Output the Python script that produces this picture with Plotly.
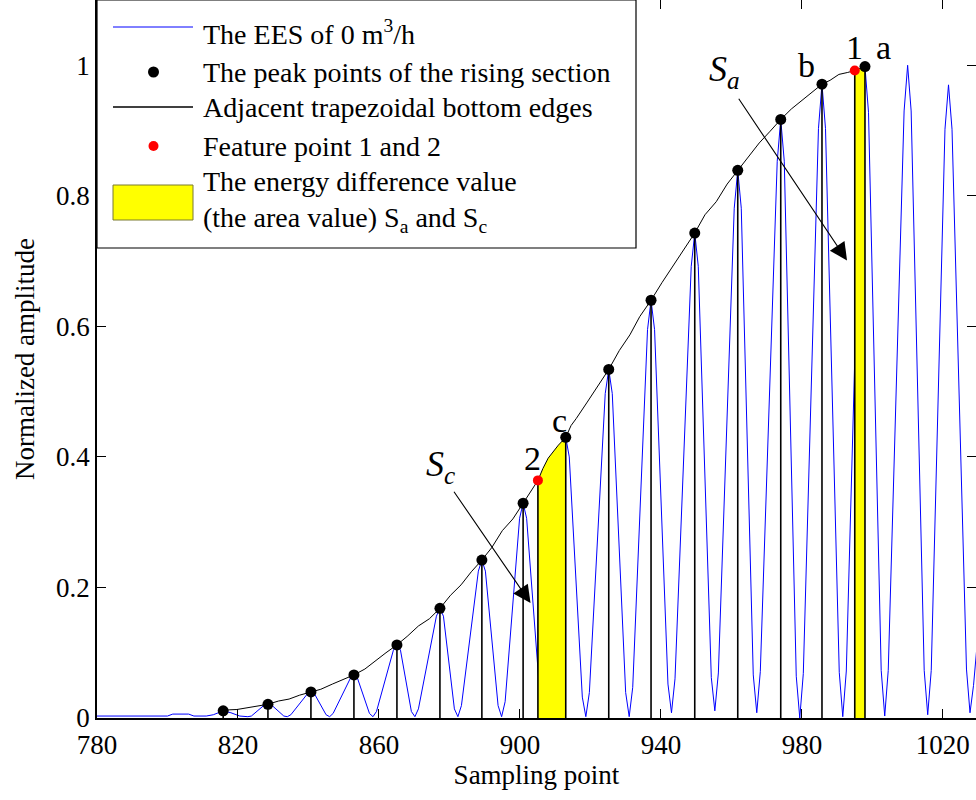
import plotly.graph_objects as go

# ---------------- data ----------------
# blue EES signal (vertices of the sampled waveform)
blue_x = [780, 800, 801.5, 806, 807.5, 811, 813, 815.8, 818, 820.5, 822.8,
          823.8, 827.5, 828.5, 829.5, 833.0, 834.0,
          835.0, 839.7, 840.7, 841.7, 845.0, 846.0,
          847.0, 851.9, 852.9, 853.9, 857.3, 858.3,
          859.3, 864.1, 865.1, 866.1, 869.2, 870.2,
          871.2, 876.3, 877.3, 878.3, 881.4, 882.4,
          883.4, 888.2, 889.2, 890.2, 893.8, 894.8,
          895.8, 899.9, 900.9, 901.9, 905.8, 906.8,
          907.8, 912.0, 913.0, 914.0, 917.7, 918.7,
          919.7, 924.2, 925.2, 926.2, 930.0, 931.0,
          932.0, 936.2, 937.2, 938.2, 942.0, 943.0,
          944.0, 948.6, 949.6, 950.6, 954.3, 955.3,
          956.3, 960.8, 961.8, 962.8, 966.2, 967.2,
          968.2, 973.0, 974.0, 975.0, 978.4, 979.4,
          980.4, 984.7, 985.7, 986.7, 990.6, 991.6,
          992.6, 996.9, 997.9, 998.9, 1002.5, 1003.5,
          1004.5, 1009.0, 1010.0, 1011.0, 1014.7, 1015.7,
          1016.7, 1020.6, 1021.6, 1022.6, 1026.7, 1027.7,
          1028.7, 1030.0]
blue_y = [0.003, 0.003, 0.006, 0.006, 0.003, 0.003, 0.005, 0.011, 0.008, 0.003, 0.002,
          0.003, 0.020, 0.021, 0.020, 0.003, 0.002,
          0.005, 0.037, 0.040, 0.037, 0.005, 0.002,
          0.007, 0.061, 0.066, 0.061, 0.007, 0.002,
          0.010, 0.104, 0.112, 0.104, 0.010, 0.002,
          0.014, 0.156, 0.168, 0.156, 0.014, 0.002,
          0.019, 0.225, 0.242, 0.225, 0.019, 0.002,
          0.025, 0.306, 0.329, 0.306, 0.025, 0.002,
          0.032, 0.400, 0.430, 0.400, 0.032, 0.002,
          0.039, 0.497, 0.534, 0.497, 0.039, 0.002,
          0.047, 0.595, 0.640, 0.595, 0.052, 0.008,
          0.060, 0.692, 0.743, 0.692, 0.062, 0.011,
          0.069, 0.781, 0.839, 0.781, 0.066, 0.008,
          0.071, 0.853, 0.917, 0.853, 0.064, 0.000,
          0.068, 0.903, 0.971, 0.903, 0.070, 0.002,
          0.072, 0.928, 0.998, 0.928, 0.073, 0.003,
          0.073, 0.930, 1.000, 0.930, 0.073, 0.005,
          0.073, 0.902, 0.970, 0.902, 0.075, 0.008,
          0.050, 0.130]

# peak points of the rising section
peak_x = [815.8, 828.5, 840.7, 852.9, 865.1, 877.3, 889.2, 900.9,
          913.0, 925.2, 937.2, 949.6, 961.8, 974.0, 985.7, 997.9]
peak_y = [0.011, 0.021, 0.040, 0.066, 0.112, 0.168, 0.242, 0.329,
          0.430, 0.534, 0.640, 0.743, 0.839, 0.917, 0.971, 0.998]

# adjacent trapezoidal bottom edges (envelope through the peaks)
env_x = [815.8, 817.5, 819.7, 822.0, 825.0, 828.5, 831.5, 834.5, 837.5, 840.7,
         843.5, 846.8, 850.0, 852.9, 856.0, 859.0, 862.0, 865.1, 868.0, 871.2,
         874.3, 877.3, 880.3, 883.3, 886.2, 889.2, 892.0, 895.0, 898.0, 900.9,
         903.0, 905.1, 906.5, 908.0, 910.9, 913.0, 914.5, 916.0, 919.1, 922.0,
         925.2, 928.2, 931.2, 934.0, 937.2, 940.3, 943.4, 946.5, 949.6, 952.5,
         955.7, 958.8, 961.8, 964.8, 967.9, 971.0, 974.0, 977.0, 979.8, 982.8,
         985.7, 988.0, 990.5, 993.0, 995.0, 997.9]
env_y = [0.011, 0.0125, 0.013, 0.015, 0.017, 0.021, 0.026, 0.029, 0.035, 0.040,
         0.044, 0.052, 0.059, 0.066, 0.075, 0.088, 0.100, 0.112, 0.125, 0.141,
         0.152, 0.168, 0.188, 0.204, 0.224, 0.242, 0.261, 0.287, 0.305, 0.329,
         0.347, 0.364, 0.382, 0.398, 0.418, 0.430, 0.448, 0.459, 0.484, 0.507,
         0.534, 0.563, 0.587, 0.615, 0.640, 0.667, 0.693, 0.717, 0.743, 0.771,
         0.791, 0.818, 0.839, 0.860, 0.881, 0.899, 0.917, 0.933, 0.945, 0.959,
         0.971, 0.977, 0.986, 0.989, 0.992, 0.998]

# feature points 1 and 2
feat_x = [995.0, 905.1]
feat_y = [0.992, 0.364]
feat_labels = ["1", "2"]

# yellow areas: from feature point to the next peak (a and c)
area_ranges = [(905.1, 913.0), (995.0, 997.9)]

# point labels
lab_text = ["a", "b", "c"]
lab_x = [1003.2, 981.4, 911.3]
lab_y = [1.028, 1.000, 0.456]

x_ticks = [780, 820, 860, 900, 940, 980, 1020]
y_ticks = [0, 0.2, 0.4, 0.6, 0.8, 1]

FONT = "Liberation Serif, Times New Roman, serif"

fig = go.Figure()

# blue signal
fig.add_trace(go.Scatter(x=blue_x, y=blue_y, mode="lines",
                         line=dict(color="#0000ff", width=1), showlegend=False,
                         name="The EES of 0 m<sup>3</sup>/h"))

# yellow areas
for (xa, xb) in area_ranges:
    sx = [x for x in env_x if xa <= x <= xb]
    sy = [y for x, y in zip(env_x, env_y) if xa <= x <= xb]
    fig.add_trace(go.Scatter(x=sx + [xb, xa, xa], y=sy + [0, 0, sy[0]],
                             fill="toself", fillcolor="#ffff00",
                             line=dict(color="rgba(0,0,0,0)", width=0),
                             mode="lines", showlegend=False, hoverinfo="skip"))

# stems from peaks and feature points down to zero
stem_x, stem_y = [], []
for x, y in list(zip(peak_x, peak_y)) + list(zip(feat_x, feat_y)):
    stem_x += [x, x, None]
    stem_y += [0, y, None]
fig.add_trace(go.Scatter(x=stem_x, y=stem_y, mode="lines",
                         line=dict(color="black", width=1.6), showlegend=False))

# envelope
fig.add_trace(go.Scatter(x=env_x, y=env_y, mode="lines",
                         line=dict(color="black", width=1), showlegend=False,
                         name="Adjacent trapezoidal bottom edges"))

# peak points
fig.add_trace(go.Scatter(x=peak_x, y=peak_y, mode="markers",
                         marker=dict(color="black", size=11), showlegend=False,
                         name="The peak points of the rising section"))

# feature points
fig.add_trace(go.Scatter(x=feat_x, y=feat_y, mode="markers",
                         marker=dict(color="#ff0000", size=10), showlegend=False,
                         name="Feature point 1 and 2"))

annotations = []
# feature point labels
fl_pos = [(994.8, 1.028), (903.6, 0.398)]
for t, (x, y) in zip(feat_labels, fl_pos):
    annotations.append(dict(x=x, y=y, xref="x", yref="y", text=t, showarrow=False,
                            font=dict(family=FONT, size=34, color="black")))
for t, x, y in zip(lab_text, lab_x, lab_y):
    annotations.append(dict(x=x, y=y, xref="x", yref="y", text=t, showarrow=False,
                            font=dict(family=FONT, size=34, color="black")))

# S_a and S_c labels with arrows
annotations.append(dict(x=958.0, y=0.990, xref="x", yref="y",
                        text="<i>S</i><sub><i>a</i></sub>", showarrow=False,
                        font=dict(family=FONT, size=36, color="black")))
annotations.append(dict(x=992.8, y=0.701, ax=961.8, ay=0.951, xref="x", yref="y",
                        axref="x", ayref="y", text="", showarrow=True,
                        arrowhead=2, arrowsize=3.2, arrowwidth=1.1, arrowcolor="black"))
annotations.append(dict(x=877.5, y=0.385, xref="x", yref="y",
                        text="<i>S</i><sub><i>c</i></sub>", showarrow=False,
                        font=dict(family=FONT, size=36, color="black")))
annotations.append(dict(x=903.0, y=0.176, ax=881.0, ay=0.349, xref="x", yref="y",
                        axref="x", ayref="y", text="", showarrow=True,
                        arrowhead=2, arrowsize=3.2, arrowwidth=1.1, arrowcolor="black"))

# ---------------- manual legend (paper coordinates) ----------------
W, H, L, T = 879.0, 718.0, 97.0, 0.0
def px(xp):
    return (xp - L) / W
def py(yp):
    return (H - yp) / H

shapes = []
shapes.append(dict(type="rect", xref="paper", yref="paper", x0=px(97), x1=px(636),
                   y0=py(248), y1=py(0), fillcolor="white",
                   line=dict(color="black", width=1.2), layer="above"))
shapes.append(dict(type="line", xref="paper", yref="paper", x0=px(113), x1=px(193),
                   y0=py(27), y1=py(27), line=dict(color="#0000ff", width=1), layer="above"))
shapes.append(dict(type="circle", xref="paper", yref="paper", x0=px(148), x1=px(159),
                   y0=py(77.5), y1=py(66.5), fillcolor="black",
                   line=dict(color="black", width=0), layer="above"))
shapes.append(dict(type="line", xref="paper", yref="paper", x0=px(113), x1=px(193),
                   y0=py(107), y1=py(107), line=dict(color="black", width=1.6), layer="above"))
shapes.append(dict(type="circle", xref="paper", yref="paper", x0=px(148.5), x1=px(158.5),
                   y0=py(151), y1=py(141), fillcolor="#ff0000",
                   line=dict(color="#ff0000", width=0), layer="above"))
shapes.append(dict(type="rect", xref="paper", yref="paper", x0=px(113), x1=px(193),
                   y0=py(220), y1=py(185), fillcolor="#ffff00",
                   line=dict(color="#7a7a30", width=1), layer="above"))

leg_texts = ["The EES of 0 m<sup>3</sup>/h",
             "The peak points of the rising section",
             "Adjacent trapezoidal bottom edges",
             "Feature point 1 and 2",
             "The energy difference value<br>(the area value) S<sub>a</sub> and S<sub>c</sub>"]
leg_ys = [33, 72, 108, 146, 201]
for t, yp in zip(leg_texts, leg_ys):
    annotations.append(dict(x=px(201), y=py(yp), xref="paper", yref="paper", text=t,
                            showarrow=False, xanchor="left", yanchor="middle", align="left",
                            font=dict(family=FONT, size=28, color="black")))

fig.update_layout(
    width=976, height=800,
    margin=dict(l=97, r=0, t=0, b=82, autoexpand=False),
    paper_bgcolor="white", plot_bgcolor="white",
    showlegend=False,
    font=dict(family=FONT, size=27, color="black"),
    shapes=shapes, annotations=annotations,
    xaxis=dict(range=[780, 1029.4], tickvals=x_ticks, ticks="inside", ticklen=9,
               tickwidth=1, tickcolor="black", mirror="ticks", showline=True,
               linecolor="black", linewidth=1.5, showgrid=False, zeroline=False,
               automargin=False, ticklabelstandoff=2,
               tickfont=dict(family=FONT, size=27, color="black"),
               title=dict(text="Sampling point", font=dict(family=FONT, size=27), standoff=4)),
    yaxis=dict(range=[0, 1.1], tickvals=y_ticks, ticktext=["0", "0.2", "0.4", "0.6", "0.8", "1"],
               ticks="inside", ticklen=9, tickwidth=1, tickcolor="black", mirror="ticks",
               showline=True, linecolor="black", linewidth=1.5, showgrid=False, zeroline=False,
               automargin=False,
               tickfont=dict(family=FONT, size=27, color="black"),
               title=dict(text="Normalized amplitude", font=dict(family=FONT, size=27), standoff=14)),
)

fig.write_html("out.html", config={"displayModeBar": False},
               post_script="document.body.style.margin='0';document.body.style.overflow='hidden';")
